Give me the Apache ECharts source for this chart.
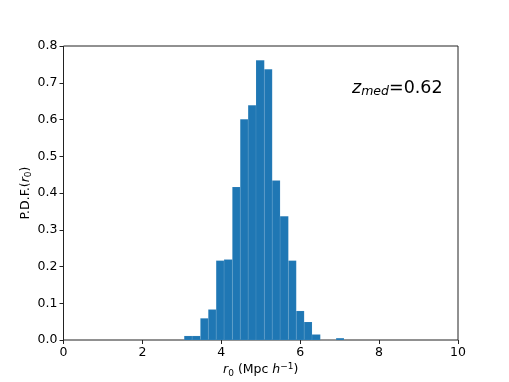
<!DOCTYPE html>
<html>
<head>
<meta charset="utf-8">
<script src="https://cdn.jsdelivr.net/npm/echarts@6/dist/echarts.min.js"></script>
<style>
  html, body { margin: 0; padding: 0; background: #fff; }
  #chart { width: 509px; height: 382px; }
</style>
</head>
<body>
<div id="chart"></div>
<script>
// histogram bin edges (r0, Mpc/h) and P.D.F. heights
const binEdges = [3.06, 3.26, 3.47, 3.67, 3.87, 4.07, 4.28, 4.48, 4.68, 4.88, 5.09,
                  5.29, 5.49, 5.70, 5.90, 6.10, 6.30, 6.51, 6.71, 6.91, 7.11];
const pdf = [0.011, 0.011, 0.059, 0.083, 0.216, 0.219, 0.416, 0.601, 0.639, 0.761,
             0.737, 0.434, 0.337, 0.216, 0.079, 0.049, 0.015, 0, 0, 0.005];
const xTicks = [0, 2, 4, 6, 8, 10];
const yTicks = [0, 0.1, 0.2, 0.3, 0.4, 0.5, 0.6, 0.7, 0.8];
const zMed = "0.62";

const font = "DejaVu Sans";
const bins = pdf.map((v, i) => [binEdges[i], binEdges[i + 1], v]);

const chart = echarts.init(document.getElementById("chart"));

const option = {
  backgroundColor: "#fff",
  animation: false,
  grid: {
    left: 63.5,
    right: 51,
    top: 46,
    bottom: 42,
    outerBoundsMode: "none",
    containLabel: false,
    show: true,
    borderColor: "#222",
    borderWidth: 1,
  },
  xAxis: {
    type: "value",
    min: xTicks[0],
    max: xTicks[xTicks.length - 1],
    interval: 2,
    axisLine: false,
    splitLine: false,
    axisTick: { show: true, inside: false, length: 4, lineStyle: { color: "#222" } },
    axisLabel: { color: "#000", fontFamily: font, fontSize: 12.5, margin: 6 },
    name: "{i|r}{s|0}{n| (Mpc }{i|h}{sup|−1}{n|)}",
    nameLocation: "middle",
    nameGap: 22,
    nameMoveOverlap: false,
    nameTextStyle: {
      fontFamily: font,
      fontSize: 12.5,
      color: "#000",
      rich: {
        n: { fontFamily: font, fontSize: 12.5, color: "#000" },
        i: { fontFamily: font, fontSize: 12.5, fontStyle: "italic", color: "#000" },
        s: { fontFamily: font, fontSize: 9, color: "#000", padding: [7, 0, 0, 0] },
        sup: { fontFamily: font, fontSize: 9, color: "#000", padding: [0, 0, 7, 0] },
      },
    },
  },
  yAxis: {
    type: "value",
    min: yTicks[0],
    max: yTicks[yTicks.length - 1],
    interval: 0.1,
    axisLine: false,
    splitLine: false,
    axisTick: { show: true, inside: false, length: 4, lineStyle: { color: "#222" } },
    axisLabel: {
      color: "#000",
      fontFamily: font,
      fontSize: 12.5,
      margin: 6,
      formatter: (v) => v.toFixed(1),
    },
    name: "{n|P.D.F.(}{i|r}{s|0}{n|)}",
    nameLocation: "middle",
    nameGap: 30,
    nameRotate: 90,
    nameMoveOverlap: false,
    nameTextStyle: {
      fontFamily: font,
      fontSize: 12.5,
      color: "#000",
      rich: {
        n: { fontFamily: font, fontSize: 12.5, color: "#000" },
        i: { fontFamily: font, fontSize: 12.5, fontStyle: "italic", color: "#000" },
        s: { fontFamily: font, fontSize: 9, color: "#000", padding: [7, 0, 0, 0] },
      },
    },
  },
  series: [
    {
      type: "custom",
      data: bins,
      encode: { x: [0, 1], y: 2 },
      renderItem: (params, api) => {
        const p0 = api.coord([api.value(0), api.value(2)]);
        const p1 = api.coord([api.value(1), 0]);
        return {
          type: "rect",
          shape: { x: p0[0], y: p0[1], width: p1[0] - p0[0], height: p1[1] - p0[1] },
          style: { fill: "#1f77b4", stroke: "rgba(255,255,255,0.12)", lineWidth: 0.6 },
        };
      },
    },
  ],
  graphic: [
    {
      type: "text",
      left: 352,
      top: 79,
      style: {
        text: "{i|z}{sub|med}{n|=" + zMed + "}",
        fill: "#000",
        rich: {
          i: { fontFamily: font, fontSize: 17.5, fontStyle: "italic", fill: "#000" },
          sub: { fontFamily: font, fontSize: 12.5, fontStyle: "italic", fill: "#000", padding: [8, 0, 0, 0] },
          n: { fontFamily: font, fontSize: 17.5, fill: "#000" },
        },
      },
    },
  ],
};

chart.setOption(option);
</script>
</body>
</html>
